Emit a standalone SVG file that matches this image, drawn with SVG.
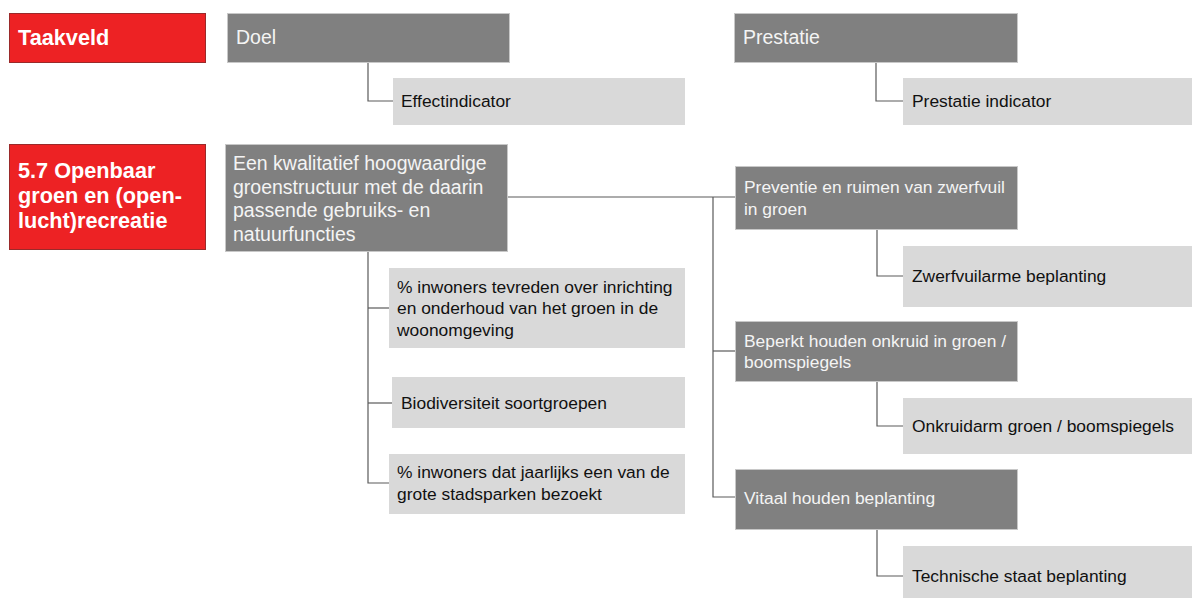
<svg xmlns="http://www.w3.org/2000/svg" width="1192" height="598" viewBox="0 0 1192 598">
<style>
.red{fill:#ED2224;stroke:#9a2a2a;stroke-width:1}
.dk{fill:#808080;stroke:#c8c8c8;stroke-width:1}
.lt{fill:#D9D9D9}
.tr{font-family:"Liberation Sans",Arial,sans-serif;font-weight:bold;font-size:21.7px;fill:#ffffff}
.td{font-family:"Liberation Sans",Arial,sans-serif;font-size:19.5px;fill:#f4f4f4}
.ts{font-family:"Liberation Sans",Arial,sans-serif;font-size:17.4px;fill:#f4f4f4}
.tl{font-family:"Liberation Sans",Arial,sans-serif;font-size:17.4px;fill:#111111}
.c{fill:none;stroke:#5a5a5a;stroke-width:1.2}
</style>
<rect width="1192" height="598" fill="#ffffff"/>
<g id="connectors">
<polyline class="c" points="368,62 368,101 393,101"/>
<polyline class="c" points="876,62 876,101 903,101"/>
<polyline class="c" points="507,197 735,197"/>
<polyline class="c" points="713,197 713,497 735,497"/>
<polyline class="c" points="713,351 735,351"/>
<polyline class="c" points="877,230 877,276 903,276"/>
<polyline class="c" points="877,382 877,426 903,426"/>
<polyline class="c" points="877,529 877,576 903,576"/>
<polyline class="c" points="368,251 368,483 389,483"/>
<polyline class="c" points="368,308 389,308"/>
<polyline class="c" points="368,403 392,403"/>
</g>
<g id="taakveld"><rect class="red" x="9.5" y="13.5" width="196" height="49"/><text class="tr" x="18" y="45">Taakveld</text></g>
<g id="doel"><rect class="dk" x="227.5" y="13.5" width="282" height="49"/><text class="td" x="236" y="44">Doel</text></g>
<g id="effectindicator"><rect class="lt" x="393" y="78" width="292" height="47"/><text class="tl" x="401" y="107">Effectindicator</text></g>
<g id="prestatie"><rect class="dk" x="734.5" y="13.5" width="283" height="49"/><text class="td" x="743" y="44">Prestatie</text></g>
<g id="prestatie-indicator"><rect class="lt" x="903" y="78" width="289" height="47"/><text class="tl" x="912" y="107">Prestatie indicator</text></g>
<g id="taakveld-57"><rect class="red" x="9.5" y="144.5" width="196" height="105"/>
<text class="tr" x="18" y="178">5.7 Openbaar</text>
<text class="tr" x="18" y="203">groen en (open-</text>
<text class="tr" x="18" y="228">lucht)recreatie</text></g>
<g id="doel-57"><rect class="dk" x="225.5" y="144.5" width="282" height="107"/>
<text class="td" x="233" y="170">Een kwalitatief hoogwaardige</text>
<text class="td" x="233" y="193.5">groenstructuur met de daarin</text>
<text class="td" x="233" y="217">passende gebruiks- en</text>
<text class="td" x="233" y="240.5">natuurfuncties</text></g>
<g id="effect-1"><rect class="lt" x="389" y="268" width="296" height="80"/>
<text class="tl" x="397" y="293">% inwoners tevreden over inrichting</text>
<text class="tl" x="397" y="314">en onderhoud van het groen in de</text>
<text class="tl" x="397" y="336">woonomgeving</text></g>
<g id="effect-2"><rect class="lt" x="392" y="377" width="293" height="51"/>
<text class="tl" x="401" y="409">Biodiversiteit soortgroepen</text></g>
<g id="effect-3"><rect class="lt" x="389" y="454" width="296" height="60"/>
<text class="tl" x="397" y="478">% inwoners dat jaarlijks een van de</text>
<text class="tl" x="397" y="500">grote stadsparken bezoekt</text></g>
<g id="prestatie-1"><rect class="dk" x="735.5" y="166.5" width="282" height="63"/>
<text class="ts" x="744" y="193">Preventie en ruimen van zwerfvuil</text>
<text class="ts" x="744" y="215">in groen</text></g>
<g id="indicator-1"><rect class="lt" x="903" y="246" width="289" height="61"/>
<text class="tl" x="912" y="282">Zwerfvuilarme beplanting</text></g>
<g id="prestatie-2"><rect class="dk" x="735.5" y="321.5" width="282" height="60"/>
<text class="ts" x="744" y="347">Beperkt houden onkruid in groen /</text>
<text class="ts" x="744" y="368">boomspiegels</text></g>
<g id="indicator-2"><rect class="lt" x="903" y="398" width="289" height="56"/>
<text class="tl" x="912" y="432">Onkruidarm groen / boomspiegels</text></g>
<g id="prestatie-3"><rect class="dk" x="735.5" y="469.5" width="282" height="60"/>
<text class="ts" x="744" y="504">Vitaal houden beplanting</text></g>
<g id="indicator-3"><rect class="lt" x="903" y="546" width="289" height="52"/>
<text class="tl" x="912" y="582">Technische staat beplanting</text></g>
</svg>
